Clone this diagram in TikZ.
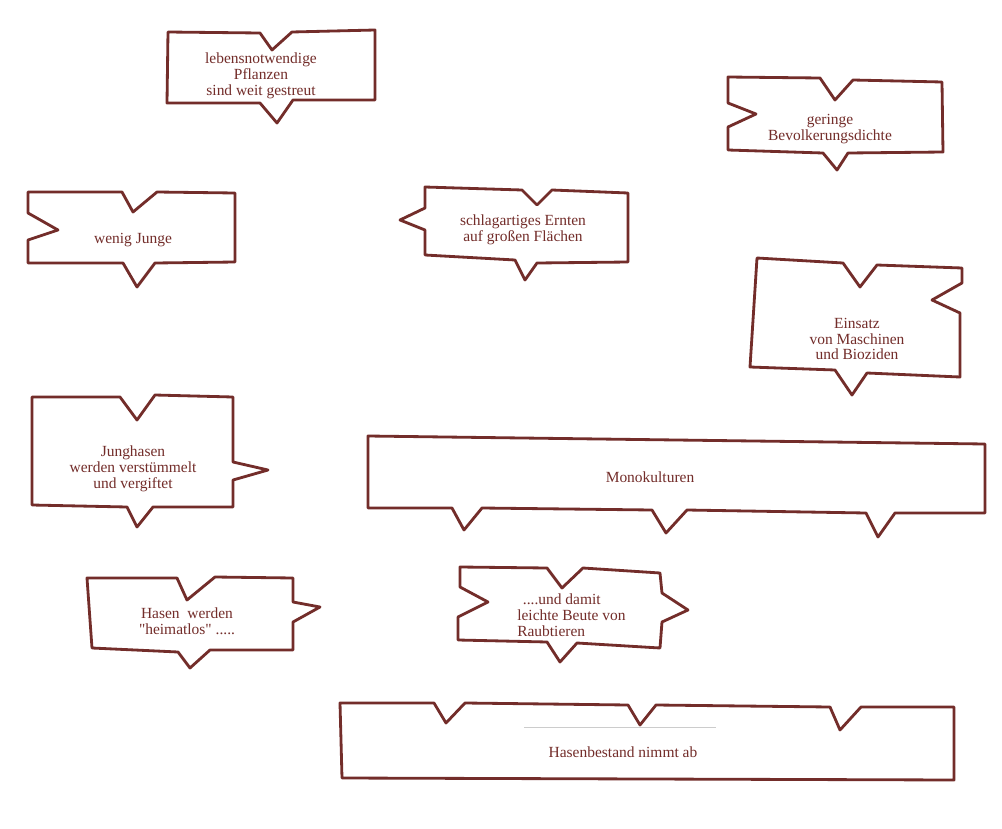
\documentclass[tikz,border=0pt]{standalone}
\usepackage{fontspec}
\setmainfont{Liberation Serif}
\newfontfamily\labelfont{Liberation Serif}
\usepackage{tikz}
\definecolor{inkbrown}{RGB}{115,45,42}

\begin{document}
\begin{tikzpicture}[x=0.025cm, y=-0.025cm,
	piece/.style={draw=inkbrown, line width=2pt, line join=round},
	lbl/.style={text=inkbrown, font=\labelfont\fontsize{11}{11.2}\selectfont, align=center, inner sep=0pt}]
	\useasboundingbox[fill=white] (0,0) rectangle (1002,829);
	% top row
	\draw[piece] (168,32) -- (260,33) -- (272,50) -- (292,32) -- (375,30) -- (375,100) -- (293,100) -- (277,123) -- (260,103) -- (167,103) -- cycle;
	\node[lbl] (lebens) at (261,76) {lebensnotwendige\\Pflanzen\\sind weit gestreut};
	\draw[piece] (728,77) -- (820,78) -- (835,100) -- (853,80) -- (942,82) -- (943,152) -- (848,153) -- (837,170) -- (823,153) -- (728,150) -- (728,127) -- (756,114) -- (728,103) -- cycle;
	\node[lbl] (geringe) at (830,129) {geringe\\Bevolkerungsdichte};
	\draw[piece] (28,192) -- (122,192) -- (133,212) -- (157,192) -- (235,193) -- (235,262) -- (155,263) -- (137,287) -- (123,263) -- (28,263) -- (28,240) -- (58,230) -- (28,213) -- cycle;
	\node[lbl] (wenig) at (133,240) {wenig Junge};
	\draw[piece] (425,187) -- (522,190) -- (537,205) -- (552,190) -- (628,193) -- (628,262) -- (537,263) -- (525,280) -- (515,260) -- (425,255) -- (425,230) -- (400,220) -- (425,208) -- cycle;
	\node[lbl] (schlag) at (523,230) {schlagartiges Ernten\\auf großen Flächen};
	\draw[piece] (757,258) -- (843,263) -- (860,287) -- (877,265) -- (962,268) -- (962,283) -- (932,300) -- (960,313) -- (960,377) -- (867,373) -- (852,395) -- (835,370) -- (750,367) -- cycle;
	\node[lbl] (einsatz) at (857,339) {Einsatz\\von Maschinen\\und Bioziden};
	% middle
	\draw[piece] (32,397) -- (120,397) -- (137,420) -- (155,395) -- (233,397) -- (233,462) -- (268,470) -- (233,480) -- (233,507) -- (153,507) -- (137,527) -- (127,507) -- (32,505) -- cycle;
	\node[lbl] (junghasen) at (133,469) {Junghasen\\werden verstümmelt\\und vergiftet};
	\draw[piece] (368,436) -- (985,444) -- (985,513) -- (895,513) -- (878,537) -- (866,513) -- (687,510) -- (666,533) -- (652,510) -- (482,508) -- (464,530) -- (452,508) -- (368,508) -- cycle;
	\node[lbl] (mono) at (650,477) {Monokulturen};
	\draw[piece] (87,578) -- (177,578) -- (187,600) -- (215,577) -- (293,578) -- (293,602) -- (320,607) -- (293,622) -- (293,650) -- (210,650) -- (190,668) -- (178,652) -- (92,648) -- cycle;
	\node[lbl] (heimatlos) at (187,621) {Hasen~~werden\\"heimatlos" .....};
	\draw[piece] (460,567) -- (547,568) -- (562,588) -- (583,568) -- (660,573) -- (662,593) -- (688,610) -- (662,622) -- (660,648) -- (577,643) -- (560,662) -- (547,642) -- (458,640) -- (458,617) -- (488,602) -- (460,587) -- cycle;
	\node[lbl, align=left, anchor=west] (beute) at (517,615) {\hspace{4pt}....und damit\\leichte Beute von\\Raubtieren};
	% bottom
	\draw[piece] (340,703) -- (434,703) -- (446,723) -- (465,703) -- (628,705) -- (640,725) -- (656,705) -- (830,707) -- (840,730) -- (861,707) -- (954,707) -- (954,780) -- (342,778) -- cycle;
	\draw[gray!40, line width=0.5pt] (524,727) -- (716,727);
	\node[lbl] (bestand) at (623,752) {Hasenbestand nimmt ab};
\end{tikzpicture}
\end{document}
